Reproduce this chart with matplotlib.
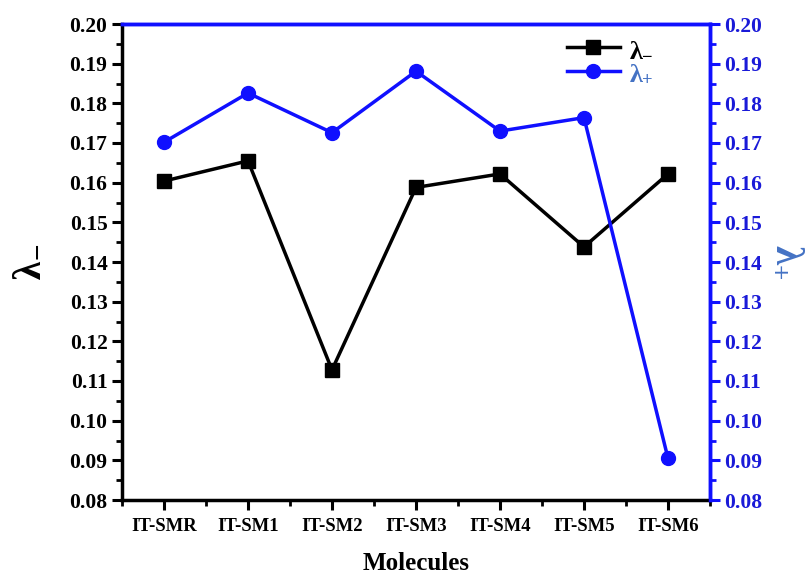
import matplotlib
matplotlib.use("Agg")
import matplotlib.pyplot as plt
from matplotlib.ticker import MultipleLocator, FixedLocator, FormatStrFormatter

plt.rcParams['font.family'] = ['Liberation Serif', 'DejaVu Serif']
plt.rcParams['font.weight'] = 'bold'
plt.rcParams['mathtext.fontset'] = 'custom'
plt.rcParams['mathtext.rm'] = 'Liberation Serif:bold'
plt.rcParams['mathtext.it'] = 'Liberation Serif:bold'
plt.rcParams['mathtext.bf'] = 'Liberation Serif:bold'

molecules = ["IT-SMR", "IT-SM1", "IT-SM2", "IT-SM3", "IT-SM4", "IT-SM5", "IT-SM6"]
lambda_minus = [0.1604, 0.1655, 0.1128, 0.1588, 0.1622, 0.1438, 0.1622]
lambda_plus = [0.1702, 0.1826, 0.1726, 0.1881, 0.1730, 0.1764, 0.0905]

BLUE = "#1010ff"
LBLUE = "#4472c4"
TBLUE = "#1a1ad8"

fig = plt.figure(figsize=(8.08, 5.74), dpi=100)
ax = fig.add_axes([122/808, 1-500/574, (710-122)/808, (500-24)/574])
ax2 = ax.twinx()

x = list(range(len(molecules)))
l1, = ax.plot(x, lambda_minus, color='black', lw=2.5, marker='s', ms=10, label=r'$\lambda_{-}$')
l2, = ax2.plot(x, lambda_plus, color=BLUE, lw=2.5, marker='o', ms=10, label=r'$\lambda_{+}$')

for a in (ax, ax2):
    a.set_ylim(0.08, 0.20)
    a.yaxis.set_major_locator(MultipleLocator(0.01))
    a.yaxis.set_minor_locator(MultipleLocator(0.005))
    a.yaxis.set_major_formatter(FormatStrFormatter('%.2f'))
ax.set_xlim(-0.5, 6.5)
ax.set_xticks(x)
ax.set_xticklabels(molecules, fontsize=13, fontweight='bold')
ax.xaxis.set_minor_locator(FixedLocator([i + 0.5 for i in range(-1, 7)]))

ax.tick_params(axis='x', which='major', direction='out', length=7, width=2.2, labelsize=13.5, pad=6)
ax.tick_params(axis='y', which='major', direction='out', length=7, width=2.2, labelsize=15.5)
ax.tick_params(axis='both', which='minor', direction='out', length=4, width=2.0)
ax2.tick_params(axis='y', which='major', direction='out', length=7, width=2.2, labelsize=15.5,
                colors=BLUE, labelcolor=TBLUE)
ax2.tick_params(axis='y', which='minor', direction='out', length=4, width=2.0, colors=BLUE)
for lab in ax.get_yticklabels() + ax2.get_yticklabels() + ax.get_xticklabels():
    lab.set_fontweight('bold')

for a in (ax, ax2):
    for s in a.spines.values():
        s.set_linewidth(2.5)
ax.spines['left'].set_color('black')
ax.spines['bottom'].set_color('black')
ax.spines['top'].set_color(BLUE)
ax.spines['right'].set_color(BLUE)
ax2.spines['right'].set_color(BLUE)
ax2.spines['top'].set_color(BLUE)
ax2.spines['left'].set_visible(False)
ax2.spines['bottom'].set_visible(False)

ax.set_xlabel("Molecules", fontsize=18, fontweight='bold', labelpad=12)
ax.set_ylabel(r'$\lambda_{-}$', fontsize=30, labelpad=16)
ax2.set_ylabel(r'$\lambda_{+}$', fontsize=28, color=LBLUE, rotation=270, labelpad=32)

leg = ax.legend(handles=[l1, l2], loc='upper left', bbox_to_anchor=(0.73, 1.005),
                frameon=False, fontsize=19, handlelength=2.0, handletextpad=0.35,
                borderaxespad=0.2, labelspacing=0.05)
leg.get_texts()[1].set_color(LBLUE)

fig.savefig("out.png", dpi=100)
